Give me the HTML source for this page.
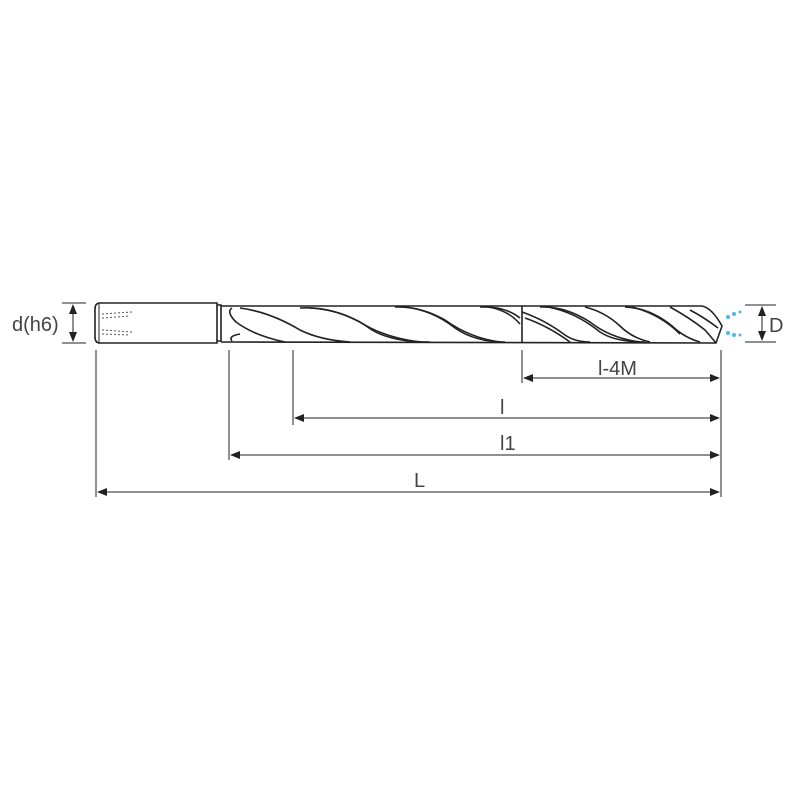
<!DOCTYPE html>
<html><head><style>body{margin:0;background:#fff}svg{display:block}</style></head><body>
<svg width="800" height="800" viewBox="0 0 800 800" xmlns="http://www.w3.org/2000/svg" font-family="Liberation Sans, sans-serif">
<g fill="none" stroke="#222" stroke-width="1.6">
<path d="M100,303 L217,303 L217,343 L100,343 Q95,343 95,337 L95,309 Q95,303 100,303 Z"/>
<line x1="99" y1="304" x2="99" y2="342" stroke-width="1"/>
<path d="M217,305 L221,305 L221,341 L217,341"/>
<path d="M221,306 L702,306 Q712,308 722,326 L716,343 L221,342"/>
<line x1="522" y1="306" x2="522" y2="342"/>
<path d="M232,308 Q226,312 236,322 Q255,336 285,342" />
<path d="M232,341 Q228,336 240,334" />
<path d="M240,308 Q270,312 300,330 Q320,340 350,342"/>
<path d="M300,308 Q330,306 360,322 Q385,338 420,342"/>
<path d="M310,308 Q345,310 372,330 Q392,342 430,342"/>
<path d="M395,307 Q420,306 445,320 Q470,338 500,342"/>
<path d="M405,307 Q432,310 455,328 Q475,342 505,342"/>
<path d="M480,307 Q505,306 520,318"/>
<path d="M488,307 Q508,310 520,324"/>
<path d="M522,312 Q545,320 565,335 Q575,342 590,342"/>
<path d="M525,318 Q548,326 570,342"/>
<path d="M540,307 Q565,306 590,322 Q610,338 640,342"/>
<path d="M548,307 Q575,312 600,332 Q615,342 645,342"/>
<path d="M585,307 Q605,312 620,326 Q632,338 650,342"/>
<path d="M625,307 Q650,308 672,326 Q685,338 700,342"/>
<path d="M632,307 Q660,314 680,334"/>
<path d="M670,307 Q690,318 705,330 Q712,338 716,343"/>
<path d="M690,310 Q705,318 718,328"/>
</g>
<g stroke="#555" stroke-width="1" stroke-dasharray="2,2">
<line x1="102" y1="314" x2="132" y2="312"/><line x1="102" y1="318" x2="130" y2="316"/>
<line x1="102" y1="330" x2="132" y2="332"/><line x1="102" y1="334" x2="130" y2="335"/>
</g>
<g fill="#4cb8e8">
<circle cx="728" cy="317" r="2"/><circle cx="734" cy="314" r="2"/><circle cx="740" cy="312" r="1.5"/>
<circle cx="728" cy="333" r="2"/><circle cx="734" cy="335" r="2"/><circle cx="740" cy="335" r="1.5"/>
</g>
<g stroke="#222" stroke-width="1" fill="none">
<line x1="62" y1="303" x2="86" y2="303"/><line x1="62" y1="343" x2="86" y2="343"/>
<line x1="73" y1="305" x2="73" y2="341"/>
<line x1="745" y1="305" x2="776" y2="305"/><line x1="745" y1="342" x2="776" y2="342"/>
<line x1="762" y1="307" x2="762" y2="340"/>
<line x1="96" y1="350" x2="96" y2="497"/>
<line x1="229" y1="350" x2="229" y2="460"/>
<line x1="293" y1="350" x2="293" y2="425"/>
<line x1="522" y1="350" x2="522" y2="383"/>
<line x1="721" y1="350" x2="721" y2="497"/>
<line x1="524" y1="378" x2="719" y2="378"/>
<line x1="295" y1="418" x2="719" y2="418"/>
<line x1="231" y1="455" x2="719" y2="455"/>
<line x1="98" y1="492" x2="719" y2="492"/>
</g>
<g fill="#222">
<path d="M73,304 L69,314 L77,314Z"/><path d="M73,342 L69,332 L77,332Z"/>
<path d="M762,306 L758,316 L766,316Z"/><path d="M762,341 L758,331 L766,331Z"/>
<path d="M523,378 L533,374 L533,382Z"/><path d="M720,378 L710,374 L710,382Z"/>
<path d="M294,418 L304,414 L304,422Z"/><path d="M720,418 L710,414 L710,422Z"/>
<path d="M230,455 L240,451 L240,459Z"/><path d="M720,455 L710,451 L710,459Z"/>
<path d="M97,492 L107,488 L107,496Z"/><path d="M720,492 L710,488 L710,496Z"/>
</g>
<g fill="#444" font-size="20">
<text x="12" y="331">d(h6)</text>
<text x="769" y="332">D</text>
<text x="598" y="375">l-4M</text>
<text x="500" y="414">l</text>
<text x="500" y="450">l1</text>
<text x="414" y="487">L</text>
</g>
</svg>
</body></html>
